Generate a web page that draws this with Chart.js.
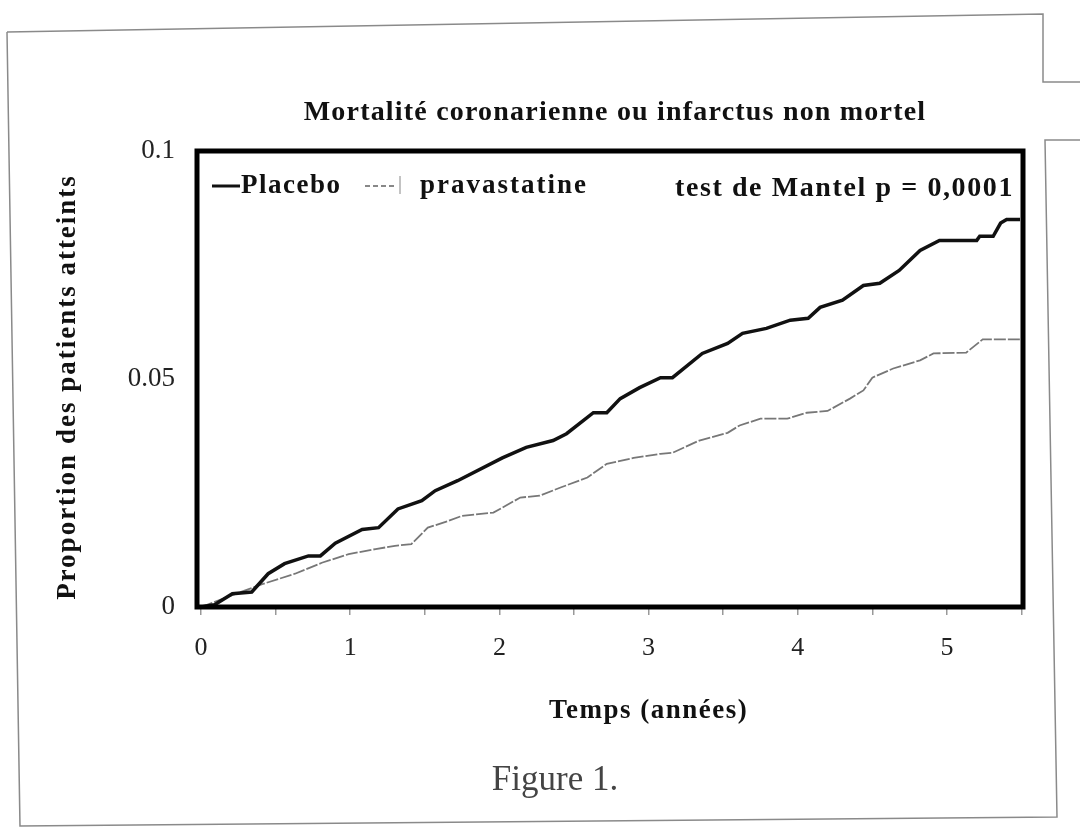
<!DOCTYPE html>
<html lang="fr">
<head>
<meta charset="utf-8">
<title>Mortalité coronarienne ou infarctus non mortel</title>
<script src="https://cdn.jsdelivr.net/npm/chart.js@4"></script>
<style>
  html, body { margin: 0; padding: 0; background: #fff; }
  #wrap { width: 1080px; height: 827px; position: relative; }
</style>
</head>
<body>
<div id="wrap"><canvas id="km-chart"></canvas></div>
<script>
// ── Données ───────────────────────────────────────────────────────────────────
const placeboTime = [0, 0.09, 0.21, 0.34, 0.45, 0.56, 0.72, 0.80, 0.90, 1.08, 1.19, 1.32, 1.48, 1.57, 1.72,
  2.02, 2.18, 2.36, 2.45, 2.63, 2.72, 2.81, 2.94, 3.08, 3.16, 3.36, 3.53, 3.63, 3.79, 3.95,
  4.07, 4.15, 4.30, 4.44, 4.55, 4.68, 4.82, 4.95, 5.20, 5.22, 5.31, 5.36, 5.40, 5.49];
const placeboRate = [0, 0.0005, 0.0029, 0.0033, 0.0073, 0.0095, 0.0112, 0.0112, 0.0140, 0.0170, 0.0174, 0.0215, 0.0233, 0.0255, 0.0277,
  0.0327, 0.0350, 0.0365, 0.0380, 0.0426, 0.0426, 0.0457, 0.0481, 0.0503, 0.0503, 0.0556, 0.0578, 0.0600, 0.0611, 0.0629,
  0.0633, 0.0657, 0.0673, 0.0705, 0.0710, 0.0738, 0.0782, 0.0804, 0.0804, 0.0813, 0.0813, 0.0842, 0.0850, 0.0850];

const pravaTime = [0, 0.20, 0.41, 0.63, 0.81, 0.99, 1.17, 1.30, 1.41, 1.52, 1.66, 1.75, 1.96, 2.14, 2.27,
  2.41, 2.59, 2.72, 2.90, 3.08, 3.16, 3.34, 3.53, 3.61, 3.75, 3.93, 4.06, 4.20, 4.35, 4.44,
  4.50, 4.64, 4.82, 4.91, 5.13, 5.24, 5.49];
const pravaRate = [0, 0.0025, 0.0050, 0.0073, 0.0097, 0.0116, 0.0127, 0.0134, 0.0138, 0.0174, 0.0189, 0.0200, 0.0207, 0.0240, 0.0244,
  0.0262, 0.0284, 0.0314, 0.0327, 0.0336, 0.0338, 0.0365, 0.0382, 0.0398, 0.0413, 0.0413, 0.0426, 0.0430, 0.0457, 0.0475,
  0.0503, 0.0523, 0.0541, 0.0556, 0.0558, 0.0587, 0.0587];

const xTickLabels = [0, 1, 2, 3, 4, 5];
const yTickLabels = [0, 0.05, 0.1];

const seriesNames = ['Placebo', 'pravastatine'];
const chartTitle  = 'Mortalité coronarienne ou infarctus non mortel';
const xTitle      = 'Temps (années)';
const yTitle      = 'Proportion des patients atteints';
const testText    = 'test de Mantel p = 0,0001';
const caption     = 'Figure 1.';

const SERIF = '"Liberation Serif", "DejaVu Serif", serif';

// ── Feuille scannée (bords de page) ───────────────────────────────────────────
const paperPlugin = {
  id: 'paper',
  beforeDraw(chart) {
    const ctx = chart.ctx;
    ctx.save();
    ctx.fillStyle = '#fff';
    ctx.fillRect(0, 0, chart.width, chart.height);
    ctx.strokeStyle = '#8a8a8a';
    ctx.lineWidth = 1.5;
    ctx.beginPath();
    ctx.moveTo(7, 32); ctx.lineTo(1043, 14); ctx.lineTo(1043, 82); ctx.lineTo(1080, 82);
    ctx.moveTo(1080, 140); ctx.lineTo(1045, 140); ctx.lineTo(1057, 817); ctx.lineTo(20, 826); ctx.lineTo(7, 32);
    ctx.stroke();
    ctx.restore();
  },
};

// texte avec espacement des lettres (comme sur le scan)
function spacedText(ctx, text, x, y, spacing) {
  ctx.letterSpacing = spacing + 'px';
  ctx.fillText(text, x, y);
  ctx.letterSpacing = '0px';
}

// ── Cadre, légende et textes ──────────────────────────────────────────────────
const decorPlugin = {
  id: 'decor',
  afterDatasetsDraw(chart) {
    const { ctx, chartArea: a } = chart;
    ctx.save();
    ctx.strokeStyle = '#000';
    ctx.lineWidth = 5;
    ctx.strokeRect(a.left, a.top, a.right - a.left, a.bottom - a.top);
    ctx.restore();
  },
  afterDraw(chart) {
    const { ctx, chartArea: a, scales } = chart;
    ctx.save();
    ctx.fillStyle = '#111';
    ctx.textBaseline = 'middle';

    // titre
    ctx.textAlign = 'center';
    ctx.font = `bold 28px ${SERIF}`;
    spacedText(ctx, chartTitle, (a.left + a.right) / 2 + 5, 113, 1.2);

    // légende
    const ly = a.top + 35;
    ctx.strokeStyle = '#111';
    ctx.lineWidth = 3;
    ctx.beginPath(); ctx.moveTo(a.left + 15, ly); ctx.lineTo(a.left + 43, ly); ctx.stroke();
    ctx.textAlign = 'left';
    ctx.font = `bold 27px ${SERIF}`;
    spacedText(ctx, seriesNames[0], a.left + 44, ly, 1.5);
    ctx.strokeStyle = '#888';
    ctx.lineWidth = 2;
    ctx.setLineDash([5, 3]);
    ctx.beginPath(); ctx.moveTo(a.left + 168, ly); ctx.lineTo(a.left + 198, ly); ctx.stroke();
    ctx.setLineDash([]);
    ctx.lineWidth = 1;
    ctx.beginPath(); ctx.moveTo(a.left + 203, ly - 10); ctx.lineTo(a.left + 203, ly + 8); ctx.stroke();
    spacedText(ctx, seriesNames[1], a.left + 223, ly, 2);

    // test de Mantel
    ctx.textAlign = 'right';
    ctx.font = `bold 28px ${SERIF}`;
    spacedText(ctx, testText, a.right - 9, a.top + 38, 1.6);

    // titre axe x
    ctx.textAlign = 'center';
    ctx.font = `bold 27px ${SERIF}`;
    spacedText(ctx, xTitle, scales.x.getPixelForValue(3), 711, 1.5);

    // titre axe y
    ctx.save();
    ctx.translate(68, (a.top + a.bottom) / 2 + 8);
    ctx.rotate(-Math.PI / 2);
    ctx.font = `bold 27px ${SERIF}`;
    spacedText(ctx, yTitle, 0, 0, 2);
    ctx.restore();

    // légende de figure
    ctx.fillStyle = '#444';
    ctx.font = `35px ${SERIF}`;
    ctx.fillText(caption, 555, 781);
    ctx.restore();
  },
};

const toPoints = (xs, ys) => xs.map((x, i) => ({ x, y: ys[i] }));

new Chart(document.getElementById('km-chart'), {
  type: 'line',
  data: {
    datasets: [
      {
        label: seriesNames[0],
        data: toPoints(placeboTime, placeboRate),
        borderColor: '#111',
        borderWidth: 3.5,
        pointRadius: 0,
        tension: 0,
      },
      {
        label: seriesNames[1],
        data: toPoints(pravaTime, pravaRate),
        borderColor: '#777',
        borderWidth: 1.8,
        borderDash: [12, 2],
        pointRadius: 0,
        tension: 0,
      },
    ],
  },
  options: {
    responsive: true,
    maintainAspectRatio: false,
    animation: false,
    layout: { padding: { left: 0, top: 151, right: 57, bottom: 0 } },
    plugins: {
      legend: { display: false },
      title: { display: false },
      tooltip: { enabled: false },
    },
    scales: {
      x: {
        type: 'linear',
        min: -0.027,
        max: 5.51,
        afterFit: s => { s.height = 220; },
        border: { display: false },
        grid: { drawOnChartArea: false, drawTicks: true, tickLength: 8, color: '#999', lineWidth: 1.5 },
        ticks: {
          stepSize: 0.5,
          includeBounds: false,
          autoSkip: false,
          maxRotation: 0,
          padding: 18,
          color: '#222',
          font: { family: SERIF, size: 26 },
          callback: v => (xTickLabels.includes(v) ? String(v) : ''),
        },
      },
      y: {
        min: 0,
        max: 0.1,
        afterFit: s => { s.width = 197; },
        border: { display: false },
        grid: { display: false, drawTicks: false },
        ticks: {
          stepSize: 0.05,
          padding: 22,
          color: '#222',
          font: { family: SERIF, size: 27 },
          callback: v => {
            const r = Math.round(v * 100) / 100;
            return yTickLabels.includes(r) ? String(r) : '';
          },
        },
      },
    },
  },
  plugins: [paperPlugin, decorPlugin],
});
</script>
</body>
</html>
